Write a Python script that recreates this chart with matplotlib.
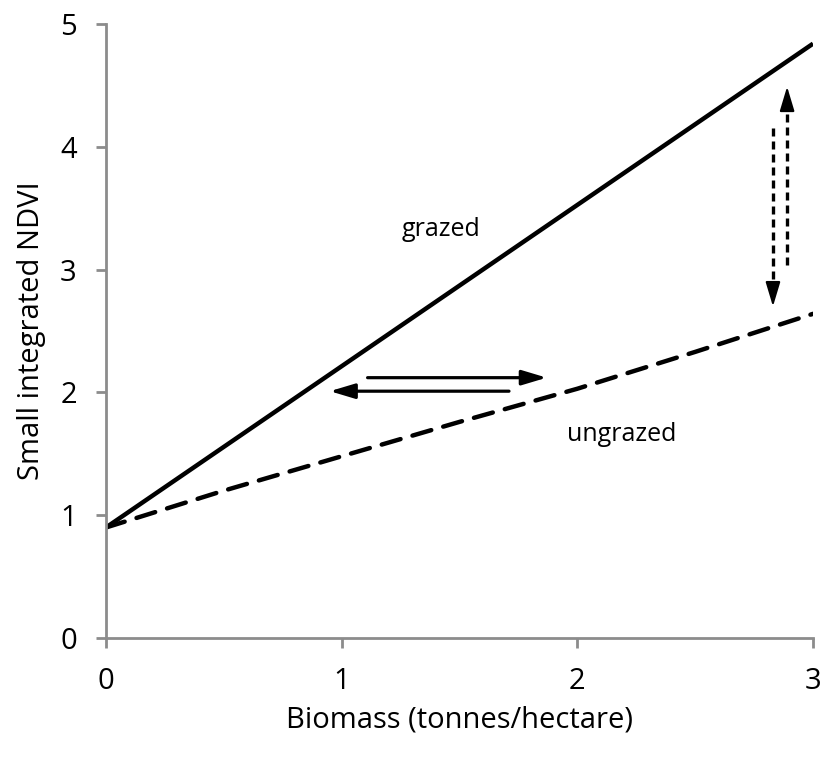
import matplotlib.pyplot as plt
from matplotlib.patches import FancyArrowPatch

# data
biomass = [0, 3]
grazed = [0.9, 4.84]
ungrazed_x = [0, 0.5, 1, 1.5, 2, 2.5, 3]
ungrazed = [0.9, 1.2, 1.48, 1.76, 2.03, 2.33, 2.64]

x_ticks = [0, 1, 2, 3]
y_ticks = [0, 1, 2, 3, 4, 5]

# arrow annotations: (x0, y0) -> (x1, y1)
h_arrows = [((1.11, 2.12), (1.87, 2.12)), ((1.71, 2.01), (0.95, 2.01))]
v_arrows = [((2.83, 4.15), (2.83, 2.70)), ((2.89, 3.04), (2.89, 4.49))]

plt.rcParams['font.family'] = ['Open Sans', 'DejaVu Sans']

fig = plt.figure(figsize=(8.26, 7.62), dpi=100)
ax = fig.add_axes([0.1283, 0.1627, 0.856, 0.8058])

ax.plot(biomass, grazed, color='black', lw=3.2, solid_capstyle='butt')
dashed, = ax.plot(ungrazed_x, ungrazed, color='black', lw=3.2, dash_capstyle='round')
dashed.set_dashes((4.4, 2.8))

for (x0, y0), (x1, y1) in h_arrows:
    ax.add_patch(FancyArrowPatch((x0, y0), (x1, y1), arrowstyle='-|>,head_length=15,head_width=4.5',
                                 color='black', lw=2.3, shrinkA=0, shrinkB=0, mutation_scale=1))
for (x0, y0), (x1, y1) in v_arrows:
    ax.plot([x0, x1], [y0, (y1 + 0.1 if y1 < y0 else y1 - 0.1)], color='black', lw=2.4,
            dashes=(2.4, 1.5))
    ax.add_patch(FancyArrowPatch((x1, y1 + (0.18 if y1 < y0 else -0.18)), (x1, y1),
                                 arrowstyle='-|>,head_length=15,head_width=4.5',
                                 color='black', lw=1.5, shrinkA=0, shrinkB=0, mutation_scale=1))

ax.text(1.42, 3.33, 'grazed', fontsize=18, ha='center', va='center')
ax.text(2.19, 1.66, 'ungrazed', fontsize=18, ha='center', va='center')

ax.set_xlim(0, 3)
ax.set_ylim(0, 5)
ax.set_xticks(x_ticks)
ax.set_yticks(y_ticks)
ax.tick_params(direction='out', length=7, width=2, color='#8c8c8c', labelsize=21, pad=14)
for s in ['top', 'right']:
    ax.spines[s].set_visible(False)
for s in ['left', 'bottom']:
    ax.spines[s].set_color('#8c8c8c')
    ax.spines[s].set_linewidth(2)

ax.set_xlabel('Biomass (tonnes/hectare)', fontsize=21, labelpad=7)
ax.set_ylabel('Small integrated NDVI', fontsize=21, labelpad=10)

fig.savefig('out.png', dpi=100)
